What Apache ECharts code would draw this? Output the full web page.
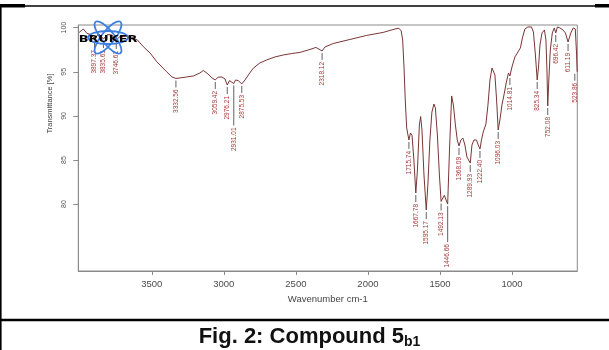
<!DOCTYPE html>
<html><head><meta charset="utf-8">
<script src="https://cdn.jsdelivr.net/npm/echarts@6/dist/echarts.min.js"></script>
<style>html,body{margin:0;padding:0;background:#fff}#c{width:609px;height:350px}</style>
</head><body><div id="c"></div>
<script>
// ---- data ----
const wavenumbers = [4005,3975,3950,3920,3897.37,3870,3855,3835.61,3810,3780,3746.61,3720,3680,3640,3600,3559,3512,3466,3397,3360,3332.56,3304,3258,3212,3166,3143,3110,3082,3059.42,3041,3013,2992,2976.21,2961,2931.01,2919,2900,2875.53,2853,2825,2796,2750,2703,2645,2588,2529,2472,2402,2361,2318.12,2298,2241,2125,2009,1894,1812,1785,1769,1759,1750,1741,1731,1715.74,1704.5,1694,1681,1667.78,1656.5,1643,1634,1625,1611,1595.17,1584,1570,1556,1542,1532,1518,1504,1492.13,1470,1446.66,1434,1419,1407,1393,1380,1368.09,1355,1341,1327,1313,1289.93,1278,1264,1247,1234.5,1222.40,1212,1200,1181,1167,1153,1139,1129,1118.6,1107,1096.03,1084,1070,1056,1039,1025,1014.81,1000.6,980,959,942,928,910.6,890,865.5,851.6,837.7,825.34,816.7,806,792,775,764.7,757.7,752.08,744.7,734.3,720.5,706.6,696.42,685,667.6,646.8,629.4,611.19,592,575,561,552,548];
const transmittance = [99.45,99.85,99.35,99.2,98.7,99.3,99.1,98.7,99.2,99.2,98.6,99.0,99.0,98.9,98.6,97.85,97.13,96.15,95.0,94.41,94.24,94.3,94.41,94.52,94.86,95.15,94.75,94.3,94.07,94.38,94.41,94.18,93.5,94.0,93.67,94.07,94.0,93.62,94.07,94.75,95.4,96.0,96.34,96.68,96.9,97.07,97.19,97.53,97.76,97.36,97.81,98.2,98.66,99.12,99.46,99.85,99.93,99.63,98.6,95.66,91.8,88.63,87.27,88.06,87.8,85.0,81.26,83.87,88.97,89.93,88.4,83.3,79.33,82.17,87.27,90.44,91.35,90.9,87.83,83.3,80.3,81.0,80.0,86.13,92.26,91.24,88.97,87.27,86.59,87.27,87.49,86.7,85.34,84.66,86.7,87.27,87.27,86.7,86.25,87.27,88.17,89.08,91.24,94.07,95.43,95.54,94.64,91.8,88.4,89.54,91.24,92.37,93.84,94.86,94.52,95.54,96.68,97.24,97.7,98.83,99.85,100.08,100.08,99.51,96.9,94.07,95.43,98.04,99.4,99.74,98.6,95.2,91.12,94.07,97.47,99.4,99.97,99.4,100.08,99.97,99.74,99.4,98.38,99.4,99.97,99.85,97.0,95.0];

const peakWavenumbers = [3897.37,3835.61,3746.61,3332.56,3059.42,2976.21,2931.01,2875.53,2318.12,1715.74,1667.78,1595.17,1492.13,1446.66,1368.09,1289.93,1222.40,1096.03,1014.81,825.34,752.08,696.42,611.19,523.86];
const peakTransmittance = [98.7,98.7,98.6,94.24,94.07,93.5,93.67,93.62,97.36,87.27,81.26,79.33,80.3,80.0,86.59,84.66,86.25,88.4,94.52,94.07,91.12,99.4,98.38,95.0];
const peakLabels = ["3897.37","3835.61","3746.61","3332.56","3059.42","2976.21","2931.01","2875.53","2318.12","1715.74","1667.78","1595.17","1492.13","1446.66","1368.09","1289.93","1222.40","1096.03","1014.81","825.34","752.08","696.42","611.19","523.86"];

const xTickValues = [3500,3000,2500,2000,1500,1000];
const yTickValues = [80,85,90,95,100];

const xAxisTitle = 'Wavenumber cm-1';
const yAxisTitle = 'Transmittance [%]';
const captionMain = 'Fig. 2: Compound 5';
const captionSub = 'b1';
const logoText = 'BRUKER';

// ---- styling ----
const FONT = '"Liberation Sans", Arial, sans-serif';
const longLeaders = { '2931.01': 40, '1446.66': 36 };
const lineColor = '#7a3535';
const labelColor = '#a83a3a';
const axisGray = '#8a8a8a';

const chart = echarts.init(document.getElementById('c'), null, {renderer: 'canvas'});

const spectrum = wavenumbers.map((w, i) => [w, transmittance[i]]);
const peaks = peakWavenumbers.map((w, i) => [w, peakTransmittance[i]]);

chart.setOption({
  animation: false,
  backgroundColor: '#fff',
  grid: { left: 78.3, right: 31.7, top: 25, bottom: 79, show: true, borderColor: axisGray, borderWidth: 1, backgroundColor: 'transparent' },
  xAxis: {
    type: 'value', inverse: true, min: 547, max: 4010,
    axisLine: { show: true, onZero: false, lineStyle: { color: axisGray, width: 1 } },
    axisTick: { show: true, customValues: xTickValues, length: 4, lineStyle: { color: axisGray } },
    axisLabel: { customValues: xTickValues, formatter: v => String(v), fontSize: 9.5, fontFamily: FONT, color: '#4a4a4a', margin: 8 },
    splitLine: { show: false },
    name: xAxisTitle, nameLocation: 'middle', nameGap: 22,
    nameTextStyle: { fontSize: 9.5, fontFamily: FONT, color: '#444' }
  },
  yAxis: {
    type: 'value', min: 72.42, max: 100.3,
    axisLine: { show: true, onZero: false, lineStyle: { color: axisGray, width: 1 } },
    axisTick: { show: true, customValues: yTickValues, length: 5, lineStyle: { color: axisGray } },
    axisLabel: { customValues: yTickValues, formatter: v => String(v), rotate: 90, fontSize: 7, fontFamily: FONT, color: '#555', margin: 11 },
    splitLine: { show: false }
  },
  series: [
    {
      type: 'line', data: spectrum, showSymbol: false, symbol: 'none',
      lineStyle: { color: lineColor, width: 1 }, z: 3, silent: true
    },
    {
      type: 'custom', data: peaks, z: 4, silent: true, clip: false,
      renderItem: (params, api) => {
        const p = api.coord([api.value(0), api.value(1)]);
        const cs = params.coordSys;
        const x = Math.min(p[0], cs.x + cs.width - 2.5);
        const label = peakLabels[params.dataIndex];
        const lead = longLeaders[label] || 7;
        const y0 = p[1] + 2;
        return {
          type: 'group',
          children: [
            { type: 'line', shape: { x1: x, y1: y0, x2: x, y2: y0 + lead }, style: { stroke: '#3a3a3a', lineWidth: 0.8 } },
            { type: 'text', x: x, y: y0 + lead + 2, rotation: Math.PI / 2,
              style: { text: label, fill: labelColor, font: '6.5px ' + FONT, align: 'right', verticalAlign: 'middle' } }
          ]
        };
      }
    }
  ],
  graphic: [
    // page frame
    { type: 'rect', shape: { x: 0, y: 4, width: 25, height: 3.5 }, style: { fill: '#000' }, z: 50 },
    { type: 'rect', shape: { x: 595, y: 4, width: 14, height: 3.5 }, style: { fill: '#000' }, z: 50 },
    { type: 'line', shape: { x1: 0, y1: 6, x2: 609, y2: 6 }, style: { stroke: '#000', lineWidth: 1.3 }, z: 50 },
    { type: 'line', shape: { x1: 0.8, y1: 4, x2: 0.8, y2: 350 }, style: { stroke: '#000', lineWidth: 1.6 }, z: 50 },
    { type: 'line', shape: { x1: 0, y1: 320, x2: 609, y2: 320 }, style: { stroke: '#000', lineWidth: 2.5 }, z: 50 },
    // y axis title
    { type: 'text', x: 50, y: 103.5, rotation: Math.PI / 2, z: 50,
      style: { text: yAxisTitle, font: '7.5px ' + FONT, fill: '#444', align: 'center', verticalAlign: 'middle' } },
    // logo
    { type: 'ellipse', shape: { cx: 0, cy: 0, rx: 20, ry: 6.5 }, x: 108, y: 37.5, rotation: 0, style: { fill: 'none', stroke: '#3d7fe0', lineWidth: 1.8 }, z: 60 },
    { type: 'ellipse', shape: { cx: 0, cy: 0, rx: 20, ry: 6.5 }, x: 108, y: 37.5, rotation: 0.9, style: { fill: 'none', stroke: '#3d7fe0', lineWidth: 1.8 }, z: 60 },
    { type: 'ellipse', shape: { cx: 0, cy: 0, rx: 20, ry: 6.5 }, x: 108, y: 37.5, rotation: -0.9, style: { fill: 'none', stroke: '#3d7fe0', lineWidth: 1.8 }, z: 60 },
    { type: 'text', x: 108, y: 39.5, scaleX: 1.6, z: 61,
      style: { text: logoText, font: '900 8px "DejaVu Sans", sans-serif', fill: '#000', align: 'center', verticalAlign: 'middle' } },
    // caption
    { type: 'text', x: 309.5, y: 337, z: 50,
      style: {
        text: '{a|' + captionMain + '}{s|' + captionSub + '}',
        align: 'center', verticalAlign: 'middle',
        rich: {
          a: { fontSize: 22, fontWeight: 'bold', fontFamily: FONT, fill: '#111', lineHeight: 24 },
          s: { fontSize: 14, fontWeight: 'bold', fontFamily: FONT, fill: '#111', lineHeight: 14, verticalAlign: 'bottom' }
        }
      } }
  ]
});
</script>
</body></html>
